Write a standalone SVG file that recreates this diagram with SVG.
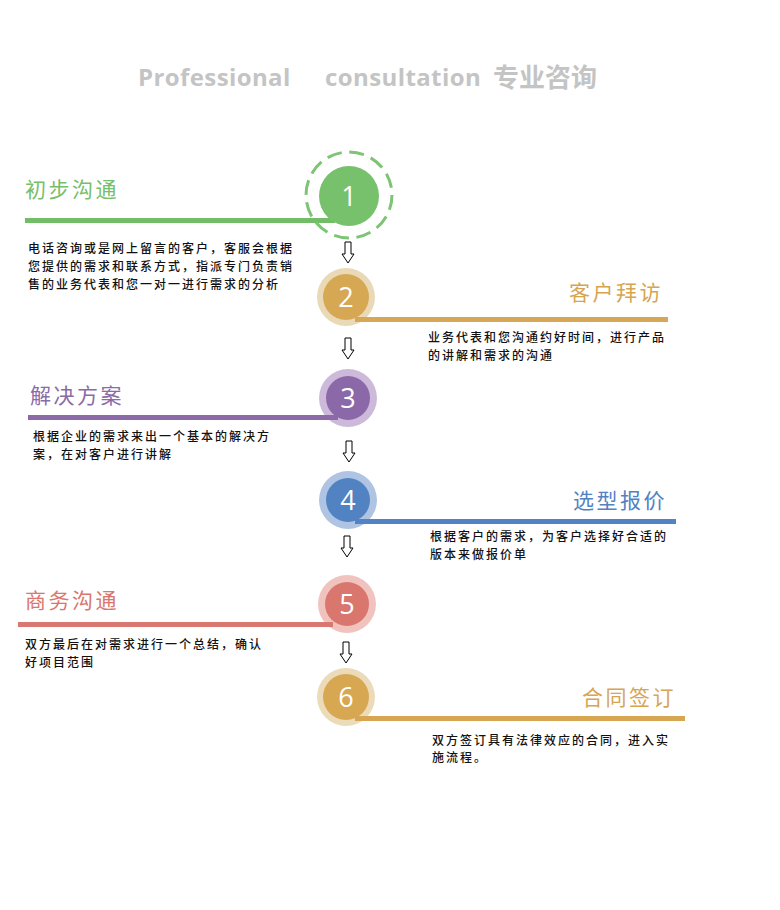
<svg xmlns="http://www.w3.org/2000/svg" width="780" height="910" viewBox="0 0 780 910">
<style>
.ttl{font-family:"Open Sans","Noto Sans",sans-serif;font-weight:bold;font-size:24px;letter-spacing:0.4px;fill:#c4c4c4}
.ttlc{font-family:"Noto Sans CJK SC",sans-serif;font-weight:bold;font-size:26px;fill:#c4c4c4}
.head{font-family:"Noto Sans CJK SC",sans-serif;font-size:21px;letter-spacing:2.5px}
.body{font-family:"Noto Sans CJK SC",sans-serif;font-size:12px;font-weight:500;letter-spacing:2px;fill:#111}
.num{font-family:"Open Sans","Noto Sans",sans-serif;font-size:27px;fill:#fff;text-anchor:middle}
.arr{fill:#fff;stroke:#000;stroke-width:1}
</style>
<rect width="780" height="910" fill="#fff"/>
<g id="title">
<text class="ttl" x="138" y="86">Professional</text>
<text class="ttl" x="325" y="86">consultation</text>
<text class="ttlc" x="493" y="87">专业咨询</text>
</g>
<g id="connectors">
<path class="arr" d="M345,242 H351 V254 H354 L348,263 L342,254 H345 Z"/>
<path class="arr" d="M345,338 H351 V350 H354 L348,359 L342,350 H345 Z"/>
<path class="arr" d="M346,441 H352 V453 H355 L349,462 L343,453 H346 Z"/>
<path class="arr" d="M344,536 H350 V548 H353 L347,557 L341,548 H344 Z"/>
<path class="arr" d="M343,642 H349 V654 H352 L346,663 L340,654 H343 Z"/>
</g>
<g id="step1">
<rect x="25" y="218" width="310" height="5" fill="#74bd68"/>
<circle cx="349" cy="195" r="43" fill="none" stroke="#7dc474" stroke-width="3" stroke-dasharray="15 7.5"/>
<circle cx="349" cy="196" r="30" fill="#77c06c"/>
<text class="num" x="349" y="206">1</text>
<text class="head" x="25" y="197" fill="#77be6b">初步沟通</text>
<text class="body" x="28" y="253">电话咨询或是网上留言的客户，客服会根据</text>
<text class="body" x="28" y="271">您提供的需求和联系方式，指派专门负责销</text>
<text class="body" x="28" y="289">售的业务代表和您一对一进行需求的分析</text>
</g>
<g id="step2">
<circle cx="346" cy="297" r="29" fill="#ead9b6"/>
<rect x="355" y="317" width="313" height="5" fill="#d6a756"/>
<circle cx="346" cy="297" r="23" fill="#d7a854"/>
<text class="num" x="346" y="307">2</text>
<text class="head" x="663" y="300" fill="#d6a552" text-anchor="end">客户拜访</text>
<text class="body" x="428" y="342">业务代表和您沟通约好时间，进行产品</text>
<text class="body" x="428" y="360">的讲解和需求的沟通</text>
</g>
<g id="step3">
<circle cx="348" cy="398" r="29" fill="#cdb9da"/>
<rect x="28" y="415" width="310" height="5" fill="#8c6aa8"/>
<circle cx="348" cy="398" r="22" fill="#8b68a7"/>
<text class="num" x="348" y="408">3</text>
<text class="head" x="30" y="403" fill="#8b6ba7">解决方案</text>
<text class="body" x="33" y="441">根据企业的需求来出一个基本的解决方</text>
<text class="body" x="33" y="459">案，在对客户进行讲解</text>
</g>
<g id="step4">
<circle cx="348" cy="500" r="29" fill="#aec4e2"/>
<rect x="355" y="519" width="321" height="5" fill="#5283c2"/>
<circle cx="348" cy="500" r="22" fill="#5182c2"/>
<text class="num" x="348" y="510">4</text>
<text class="head" x="667" y="508" fill="#5182c2" text-anchor="end">选型报价</text>
<text class="body" x="430" y="541">根据客户的需求，为客户选择好合适的</text>
<text class="body" x="430" y="559">版本来做报价单</text>
</g>
<g id="step5">
<circle cx="347" cy="604" r="29" fill="#f0c3bf"/>
<rect x="18" y="622" width="315" height="5" fill="#d97870"/>
<circle cx="347" cy="604" r="22" fill="#d9776f"/>
<text class="num" x="347" y="614">5</text>
<text class="head" x="25" y="608" fill="#d9776f">商务沟通</text>
<text class="body" x="25" y="649">双方最后在对需求进行一个总结，确认</text>
<text class="body" x="25" y="667">好项目范围</text>
</g>
<g id="step6">
<circle cx="346" cy="697" r="29" fill="#ecdbb8"/>
<rect x="355" y="716" width="330" height="5" fill="#d6a652"/>
<circle cx="346" cy="697" r="23" fill="#d7a752"/>
<text class="num" x="346" y="707">6</text>
<text class="head" x="676" y="705" fill="#d6a552" text-anchor="end">合同签订</text>
<text class="body" x="432" y="745">双方签订具有法律效应的合同，进入实</text>
<text class="body" x="432" y="762">施流程。</text>
</g>
</svg>
